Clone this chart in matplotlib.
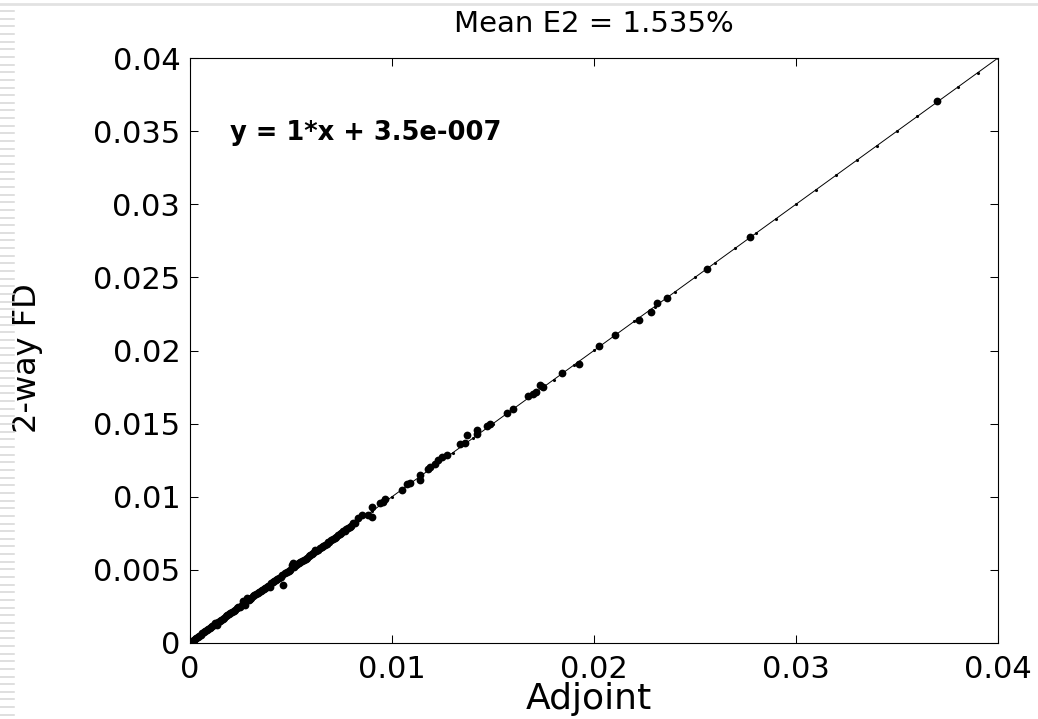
import numpy as np
import matplotlib
matplotlib.use("Agg")
import matplotlib.pyplot as plt
from matplotlib.lines import Line2D

# ---------------- data ----------------
adjoint = [
    0.03699, 0.02772, 0.02561, 0.02360, 0.02310, 0.02281, 0.02224, 0.02104,
    0.02025, 0.01924, 0.01840, 0.01733, 0.01749, 0.01712, 0.01699, 0.01675,
    0.01600, 0.01568, 0.01485, 0.01469, 0.01419, 0.01419, 0.01373, 0.01361,
    0.01337, 0.01271, 0.01246, 0.01229, 0.01213, 0.01188, 0.01178, 0.01139,
    0.01139, 0.01089, 0.01073, 0.01048, 0.00965, 0.00954, 0.00941, 0.00899,
    0.00899, 0.00883, 0.00850, 0.00833, 0.00815, 0.00808, 0.00797, 0.00790,
    0.00781, 0.00772, 0.00766, 0.00758, 0.00747, 0.00741, 0.00733, 0.00722,
    0.00716, 0.00707, 0.00699, 0.00690, 0.00684, 0.00676, 0.00668, 0.00659,
    0.00651, 0.00644, 0.00633, 0.00625, 0.00619, 0.00611, 0.00604, 0.00596,
    0.00589, 0.00578, 0.00572, 0.00563, 0.00556, 0.00547, 0.00541, 0.00532,
    0.00523, 0.00515, 0.00511, 0.00503, 0.00497, 0.00488, 0.00479, 0.00472,
    0.00462, 0.00457, 0.00449, 0.00441, 0.00432, 0.00426, 0.00417, 0.00409,
    0.00402, 0.00396, 0.00388, 0.00379, 0.00372, 0.00366, 0.00357, 0.00350,
    0.00342, 0.00336, 0.00327, 0.00319, 0.00313, 0.00304, 0.00298, 0.00290,
    0.00281, 0.00272, 0.00264, 0.00255, 0.00248, 0.00239, 0.00231, 0.00222,
    0.00216, 0.00207, 0.00199, 0.00192, 0.00184, 0.00177, 0.00169, 0.00162,
    0.00154, 0.00147, 0.00140, 0.00132, 0.00124, 0.00118, 0.00111, 0.00103,
    0.00097, 0.00089, 0.00082, 0.00074, 0.00068, 0.00061, 0.00053, 0.00046,
    0.00039, 0.00032, 0.00025, 0.00018, 0.00011, 0.00005, 0.00002,
]
fd2 = [
    0.03708, 0.02778, 0.02555, 0.02357, 0.02323, 0.02265, 0.02209, 0.02106,
    0.02031, 0.01908, 0.01848, 0.01764, 0.01748, 0.01718, 0.01703, 0.01691,
    0.01598, 0.01571, 0.01498, 0.01486, 0.01456, 0.01427, 0.01422, 0.01370,
    0.01361, 0.01286, 0.01270, 0.01251, 0.01224, 0.01201, 0.01190, 0.01149,
    0.01115, 0.01096, 0.01087, 0.01046, 0.00983, 0.00966, 0.00958, 0.00932,
    0.00864, 0.00875, 0.00875, 0.00853, 0.00822, 0.00819, 0.00803, 0.00796,
    0.00785, 0.00779, 0.00769, 0.00763, 0.00753, 0.00744, 0.00739, 0.00728,
    0.00719, 0.00713, 0.00704, 0.00694, 0.00689, 0.00679, 0.00673, 0.00664,
    0.00655, 0.00650, 0.00639, 0.00631, 0.00636, 0.00616, 0.00610, 0.00600,
    0.00594, 0.00583, 0.00577, 0.00568, 0.00561, 0.00554, 0.00546, 0.00537,
    0.00530, 0.00519, 0.00549, 0.00533, 0.00501, 0.00493, 0.00483, 0.00477,
    0.00397, 0.00462, 0.00454, 0.00446, 0.00437, 0.00431, 0.00421, 0.00414,
    0.00407, 0.00385, 0.00393, 0.00384, 0.00377, 0.00371, 0.00362, 0.00356,
    0.00347, 0.00341, 0.00332, 0.00325, 0.00319, 0.00310, 0.00303, 0.00296,
    0.00307, 0.00262, 0.00285, 0.00260, 0.00248, 0.00245, 0.00236, 0.00228,
    0.00221, 0.00212, 0.00204, 0.00197, 0.00189, 0.00183, 0.00174, 0.00167,
    0.00159, 0.00152, 0.00145, 0.00121, 0.00135, 0.00123, 0.00116, 0.00108,
    0.00102, 0.00094, 0.00087, 0.00079, 0.00073, 0.00066, 0.00058, 0.00051,
    0.00044, 0.00037, 0.00030, 0.00022, 0.00015, 0.00008, 0.00003,
]

fit_slope = 1.0
fit_intercept = 3.5e-7

x_ticks = [0, 0.01, 0.02, 0.03, 0.04]
x_tick_labels = ["0", "0.01", "0.02", "0.03", "0.04"]
y_ticks = [0, 0.005, 0.01, 0.015, 0.02, 0.025, 0.03, 0.035, 0.04]
y_tick_labels = ["0", "0.005", "0.01", "0.015", "0.02", "0.025", "0.03", "0.035", "0.04"]

title_text = "Mean E2 = 1.535%"
fit_text = "y = 1*x + 3.5e-007"
x_label = "Adjoint"
y_label = "2-way FD"

# ---------------- figure ----------------
plt.rcParams['font.family'] = ['DejaVu Sans']
W, H = 1038, 719
fig = plt.figure(figsize=(W / 100, H / 100), dpi=100)
fig.patch.set_facecolor('white')

# slide decoration: light stripes on the left edge and a thin top rule
fig.add_artist(Line2D([0, 1], [1 - 3.5 / H] * 2, color='#e2e2e2', lw=2.0,
                      transform=fig.transFigure))
for yy in np.arange(11, H, 7.65):
    fig.add_artist(Line2D([0, 14 / W], [1 - yy / H] * 2, color='#d6d6d6', lw=1.1,
                          transform=fig.transFigure))

ax = fig.add_axes([190 / W, 1 - 643 / H, 808 / W, 585 / H])

fit_x = np.linspace(0, 0.04, 41)
ax.plot(fit_x, fit_slope * fit_x + fit_intercept, '-', color='black', lw=0.7,
        marker='.', ms=2.5, zorder=2)
ax.plot(adjoint, fd2, ls='none', marker='o', color='black', ms=5.6, mew=0, zorder=3)

ax.set_xlim(0, 0.04)
ax.set_ylim(0, 0.04)
ax.set_xticks(x_ticks)
ax.set_xticklabels(x_tick_labels)
ax.set_yticks(y_ticks)
ax.set_yticklabels(y_tick_labels)

ax.tick_params(direction='in', length=5.8, width=0.75, top=True, right=True,
               labelsize=22, colors='black')
ax.tick_params(axis='x', pad=9)
ax.tick_params(axis='y', pad=7)
for s in ax.spines.values():
    s.set_linewidth(0.8)
    s.set_color('black')

ax.set_title(title_text, fontsize=21, pad=19)
ax.set_xlabel(x_label, fontsize=26)
ax.xaxis.set_label_coords(0.493, -0.066)
ax.set_ylabel(y_label, fontsize=23)
ax.yaxis.set_label_coords(-0.182, 0.487)

ax.text(0.002, 0.0349, fit_text, fontsize=18.5, fontweight='bold', ha='left', va='center')

fig.savefig('out.png', dpi=100)
